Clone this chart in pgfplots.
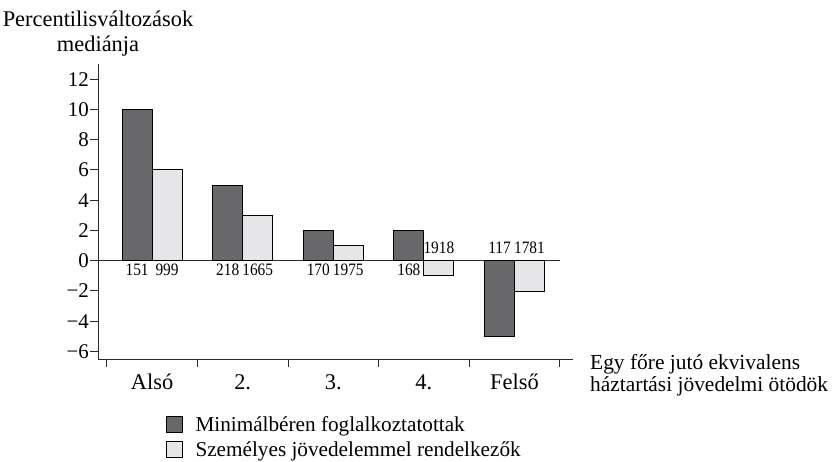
\documentclass[border=0pt]{standalone}
\usepackage{fontspec}
\setmainfont{Liberation Serif}
\newfontfamily\numfont[FakeStretch=0.88]{Liberation Serif}
\usepackage{pgfplots}
\pgfplotsset{compat=1.18}
\definecolor{darkbar}{HTML}{68686B}
\definecolor{lightbar}{HTML}{E6E6E8}
\definecolor{axisgray}{HTML}{2A2A2A}
\begin{document}
\begin{tikzpicture}
\path[use as bounding box] (-98bp,-103bp) rectangle (734bp,359bp);
\begin{axis}[
  at={(0,0)}, anchor=south west,
  scale only axis, width=475bp, height=295bp,
  xmin=-0.597, xmax=4.646, ymin=-6.5, ymax=13,
  axis x line=bottom, axis y line=left,
  axis line style={-, line width=0.9bp, axisgray},
  ytick={-6,-4,-2,0,2,4,6,8,10,12},
  yticklabels={−6,−4,−2,0,2,4,6,8,10,12},
  xtick={0,1,2,3,4},
  xticklabels={Alsó,2.,3.,4.,Felső},
  minor xtick={-0.5,0.5,1.5,2.5,3.5,4.5},
  tick align=outside,
  major tick length=8bp, minor tick length=8bp,
  tick style={axisgray, line width=0.9bp},
  major x tick style={draw=none},
  yticklabel style={font=\fontsize{21}{24}\selectfont, anchor=east, inner sep=1bp},
  xticklabel style={font=\fontsize{22.5}{26}\selectfont, anchor=base, yshift=-22bp},
  legend style={at={(axis description cs:0.143,-0.186)}, anchor=north west, draw=none, fill=none,
    font=\fontsize{21.3}{24}\selectfont, inner sep=0pt, row sep=5bp},
  legend cell align=left,
  legend image code/.code={\draw[#1, line width=0.8bp] (0bp,-8bp) rectangle (16bp,8bp);
    \path[draw=none, fill=none] (16bp,0bp) -- (27bp,0bp);},
  clip=false,
]
\addplot[forget plot, axisgray, line width=0.9bp] coordinates {(-0.597,0) (4.5,0)};
\addplot[ybar, bar width=0.331, bar shift=-0.1655, fill=darkbar, draw=black, line width=0.8bp]
  coordinates {(0,10) (1,5) (2,2) (3,2) (4,-5)};
\addplot[ybar, bar width=0.331, bar shift=0.1655, fill=lightbar, draw=black, line width=0.8bp]
  coordinates {(0,6) (1,3) (2,1) (3,-1) (4,-2)};
\addplot[forget plot, draw=none, mark=none, nodes near coords, point meta=explicit symbolic,
  nodes near coords style={anchor=base, yshift=-15bp, font=\numfont\fontsize{17.5}{19}\selectfont, inner sep=0pt}]
  coordinates {(-0.1655,0)[151] (0.1655,0)[999] (0.8345,0)[218] (1.1655,0)[1665]
               (1.8345,0)[170] (2.1655,0)[1975] (2.8345,0)[168]};
\addplot[forget plot, draw=none, mark=none, nodes near coords, point meta=explicit symbolic,
  nodes near coords style={anchor=base, yshift=7bp, font=\numfont\fontsize{17.5}{19}\selectfont, inner sep=0pt}]
  coordinates {(3.1655,0)[1918] (3.8345,0)[117] (4.1655,0)[1781]};
\legend{Minimálbéren foglalkoztatottak, Személyes jövedelemmel rendelkezők}
\node[anchor=base, font=\fontsize{22.5}{26}\selectfont] at (rel axis cs:0,1) [yshift=37bp] {Percentilisváltozások};
\node[anchor=base, font=\fontsize{22.5}{26}\selectfont] at (rel axis cs:0,1) [yshift=12bp] {mediánja};
\node[anchor=base west, font=\fontsize{21.5}{26}\selectfont, inner sep=0pt] at (rel axis cs:1,0) [xshift=17bp, yshift=-10.5bp] {Egy főre jutó ekvivalens};
\node[anchor=base west, font=\fontsize{21.5}{26}\selectfont, inner sep=0pt] at (rel axis cs:1,0) [xshift=17bp, yshift=-32bp] {háztartási jövedelmi ötödök};
\end{axis}
\end{tikzpicture}
\end{document}
